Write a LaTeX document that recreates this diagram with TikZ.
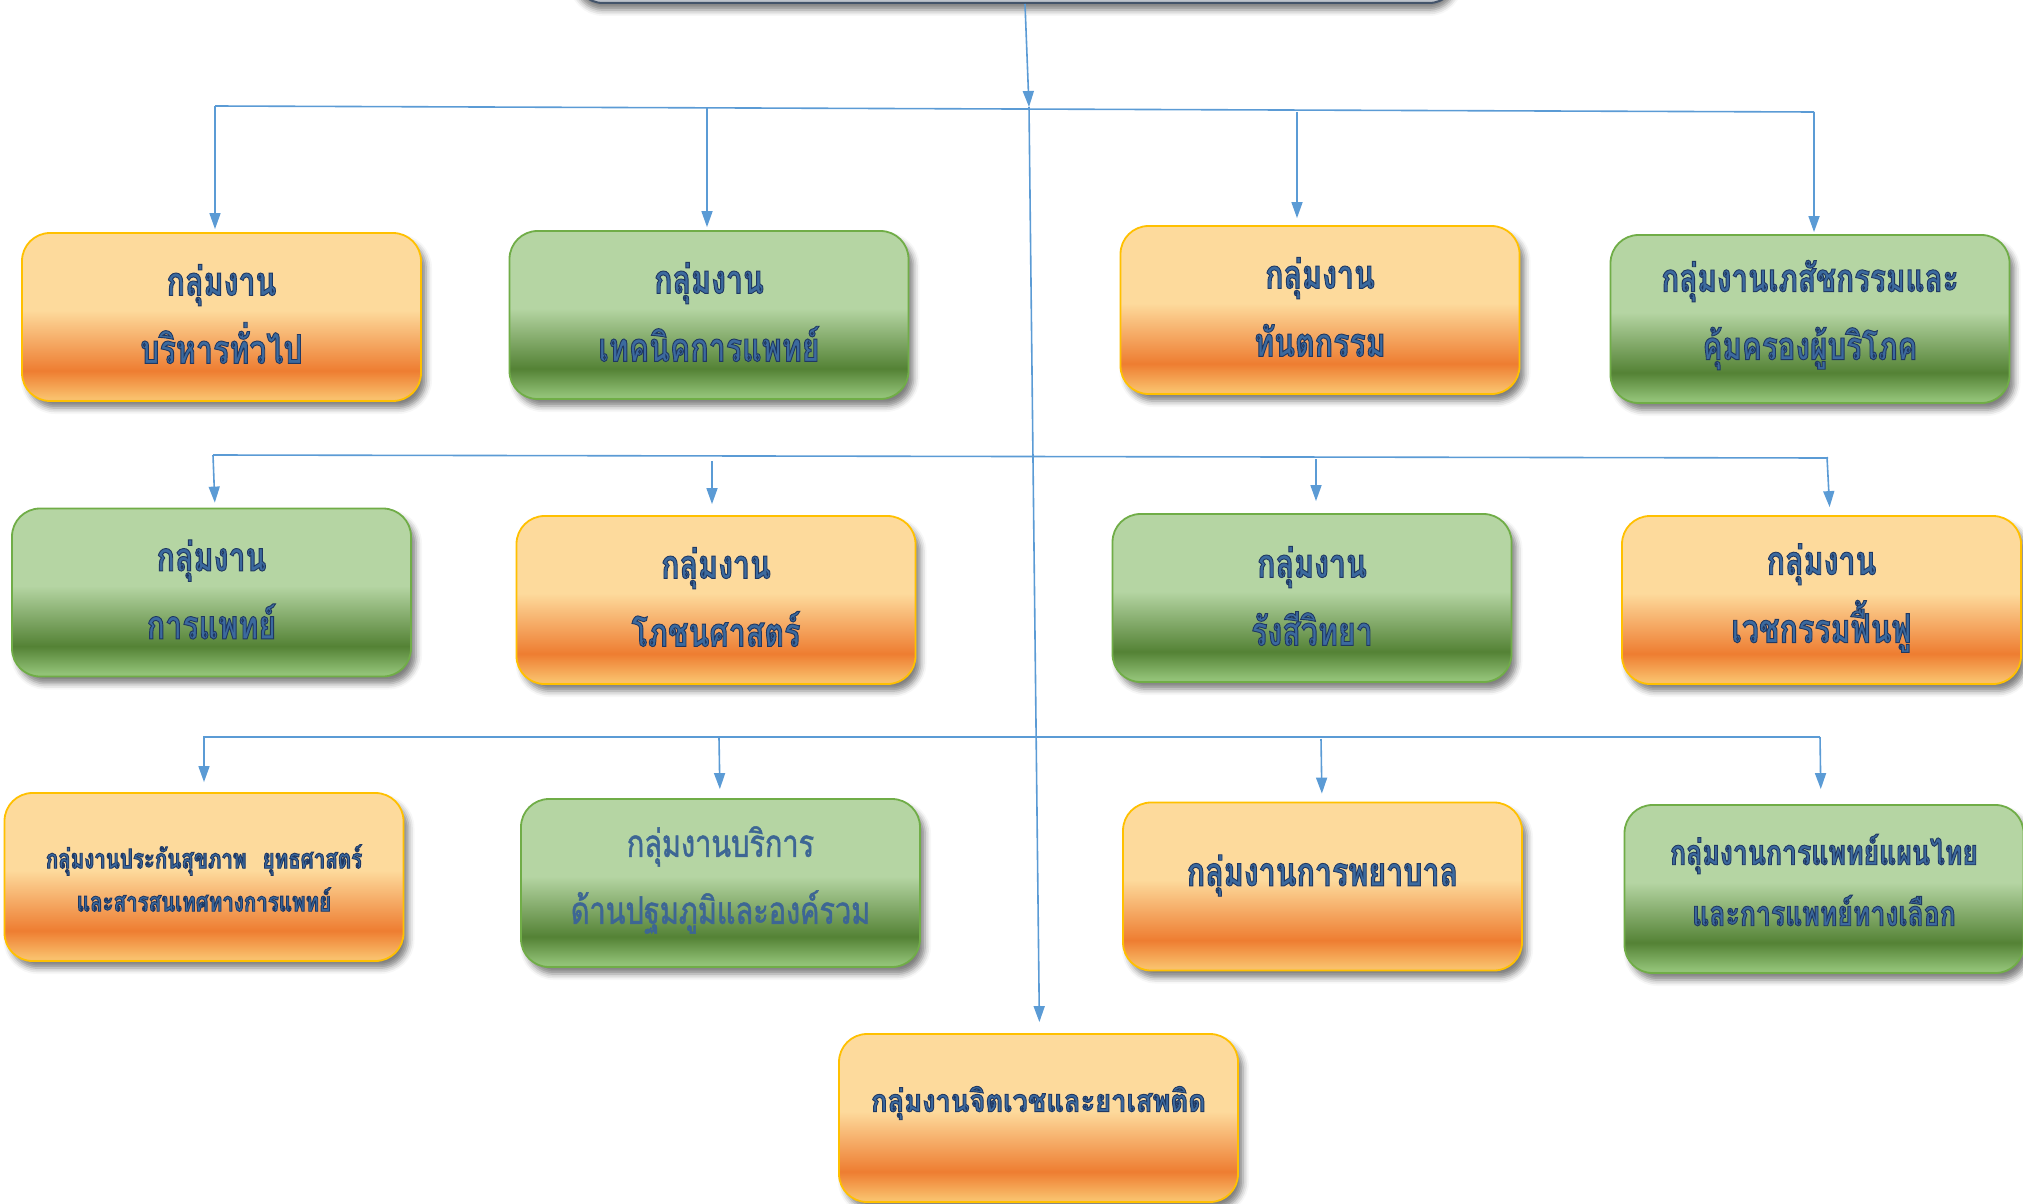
\documentclass[tikz,border=0pt]{standalone}
\usepackage{fontspec}
\newfontfamily\thai[Script=Thai,FakeStretch=0.76]{Loma}
\newfontfamily\thaiw[Script=Thai,FakeStretch=0.88]{Loma}
\usetikzlibrary{arrows.meta,shadows.blur,calc}
\definecolor{orL}{HTML}{FDDA9C}
\definecolor{orD}{HTML}{EE7D31}
\definecolor{orB}{HTML}{F9C06C}
\definecolor{orE}{HTML}{FFC000}
\definecolor{grL}{HTML}{B5D5A3}
\definecolor{grD}{HTML}{548235}
\definecolor{grB}{HTML}{92C277}
\definecolor{grE}{HTML}{70AD47}
\definecolor{lnC}{HTML}{5B9BD5}
\definecolor{txF}{HTML}{3C6A9E}
\definecolor{txR}{HTML}{3D6694}
\definecolor{topC}{HTML}{44546A}
\pgfdeclareverticalshading{orshade}{100bp}{color(0bp)=(orB); color(26bp)=(orB); color(34bp)=(orD); color(52bp)=(orL); color(100bp)=(orL)}
\pgfdeclareverticalshading{grshade}{100bp}{color(0bp)=(grB); color(26bp)=(grB); color(34bp)=(grD); color(52bp)=(grL); color(100bp)=(grL)}
\newcommand\olt[1]{\special{pdf:literal direct 2 Tr 0.9 w 0.12 0.22 0.39 RG}#1\special{pdf:literal direct 0 Tr}}
\newcommand\olr[1]{\special{pdf:literal direct 2 Tr 0.5 w 0.24 0.40 0.58 RG}#1\special{pdf:literal direct 0 Tr}}
\tikzset{
  box/.style={rounded corners=28pt, minimum width=399pt, minimum height=168pt, line width=1.8pt, inner sep=0pt,
    blur shadow={shadow xshift=5pt, shadow yshift=-7pt, shadow blur radius=6pt, shadow opacity=50}},
  obox/.style={box, draw=orE, shading=orshade},
  gbox/.style={box, draw=grE, shading=grshade},
  txt/.style={align=center, text=txF, inner sep=0pt, font=\thai\bfseries\fontsize{40}{68}\selectfont},
  ln/.style={draw=lnC, line width=1.6pt},
  arr/.style={ln, -{Triangle[length=16pt,width=11pt]}},
}
\begin{document}
\begin{tikzpicture}[x=1pt,y=-1pt]
\useasboundingbox (0,0) rectangle (2023,1204);
% top box (cut off)
\node[rounded corners=28pt, minimum width=882pt, minimum height=166pt, fill=topC!35, draw=topC, line width=2pt,
  blur shadow={shadow xshift=0pt, shadow yshift=-7pt, shadow blur radius=6pt, shadow opacity=50}] (top) at (1016,-80) {};
% row 1
\node[obox] (b1) at (221.5,317) {};
\node[gbox] (b2) at (709,315) {};
\node[obox] (b3) at (1320,310) {};
\node[gbox] (b4) at (1810,319) {};
% row 2
\node[gbox] (c1) at (211.5,592.5) {};
\node[obox] (c2) at (716,600) {};
\node[gbox] (c3) at (1312,598) {};
\node[obox] (c4) at (1821.5,600) {};
% row 3
\node[obox] (d1) at (204,877) {};
\node[gbox] (d2) at (720.5,883) {};
\node[obox] (d3) at (1322.5,886.5) {};
\node[gbox] (d4) at (1824,889) {};
% bottom
\node[obox] (e) at (1038.5,1118) {};
% texts
\node[txt] (b1t) at ($(b1.center)+(0,-3)$) {\olt{กลุ่มงาน}\\\olt{บริหารทั่วไป}};
\node[txt] (b2t) at ($(b2.center)+(0,-3)$) {\olt{กลุ่มงาน}\\\olt{เทคนิคการแพทย์}};
\node[txt] (b3t) at ($(b3.center)+(0,-3)$) {\olt{กลุ่มงาน}\\\olt{ทันตกรรม}};
\node[txt, font=\thai\bfseries\fontsize{39}{68}\selectfont] (b4t) at ($(b4.center)+(0,-4)$) {\olt{กลุ่มงานเภสัชกรรมและ}\\\olt{คุ้มครองผู้บริโภค}};
\node[txt] (c1t) at ($(c1.center)+(0,-3)$) {\olt{กลุ่มงาน}\\\olt{การแพทย์}};
\node[txt] (c2t) at ($(c2.center)+(0,-3)$) {\olt{กลุ่มงาน}\\\olt{โภชนศาสตร์}};
\node[txt] (c3t) at ($(c3.center)+(0,-2)$) {\olt{กลุ่มงาน}\\\olt{รังสีวิทยา}};
\node[txt] (c4t) at ($(c4.center)+(0,-2)$) {\olt{กลุ่มงาน}\\\olt{เวชกรรมฟื้นฟู}};
\node[txt, font=\thai\bfseries\fontsize{27}{43}\selectfont] (d1t) at ($(d1.center)+(0,1)$) {\olt{กลุ่มงานประกันสุขภาพ\hspace{0.6em}ยุทธศาสตร์}\\\olt{และสารสนเทศทางการแพทย์}};
\node[txt, text=txR, font=\thai\fontsize{38}{67}\selectfont] (d2t) at ($(d2.center)+(0,-3)$) {\olr{กลุ่มงานบริการ}\\\olr{ด้านปฐมภูมิและองค์รวม}};
\node[txt] (d3t) at ($(d3.center)+(0,-11)$) {\olt{กลุ่มงานการพยาบาล}};
\node[txt, font=\thai\bfseries\fontsize{35}{61}\selectfont] (d4t) at ($(d4.center)+(0,-9)$) {\olt{กลุ่มงานการแพทย์แผนไทย}\\\olt{และการแพทย์ทางเลือก}};
\node[txt, font=\thaiw\bfseries\fontsize{31}{60}\selectfont] (et) at ($(e.center)+(0,-15)$) {\olt{กลุ่มงานจิตเวชและยาเสพติด}};
% connectors
\coordinate (hub) at (1029,107);
\coordinate (r1L) at (215,106);
\coordinate (r1R) at (1814,112);
\coordinate (r1b) at (707,108);
\coordinate (r1c) at (1297,112);
\coordinate (r2L) at (213,455);
\coordinate (r2R) at (1828,458);
\coordinate (r2b) at (712,461);
\coordinate (r2c) at (1316,459);
\coordinate (r2d) at (1827,457);
\coordinate (r3L) at (203,737);
\coordinate (r3R) at (1820,737);
\coordinate (r3a) at (204,737);
\coordinate (r3b) at (719,738);
\coordinate (r3c) at (1321,739);
\draw[arr] ([xshift=9pt]top.south) -- (hub);
\draw[arr, shorten >=11pt] (hub) -- ($(e.north)+(1,0)$);
\draw[ln] (r1L) -- (r1R);
\draw[ln] (r2L) -- (r2R);
\draw[ln] (r3L) -- (r3R);
\draw[arr, shorten >=3pt] (r1L) -- ($(b1.north)+(-6.5,0)$);
\draw[arr, shorten >=3pt] (r1b) -- ($(b2.north)+(-2,0)$);
\draw[arr, shorten >=7pt] (r1c) -- ($(b3.north)+(-23,0)$);
\draw[arr, shorten >=2pt] (r1R) -- ($(b4.north)+(4,0)$);
\draw[arr, shorten >=5pt] (r2L) -- ($(c1.north)+(3.5,0)$);
\draw[arr, shorten >=11pt] (r2b) -- ($(c2.north)+(-4,0)$);
\draw[arr, shorten >=12pt] (r2c) -- ($(c3.north)+(4,0)$);
\draw[arr, shorten >=8pt] (r2d) -- ($(c4.north)+(8.5,0)$);
\draw[arr, shorten >=10pt] (r3a) -- (d1.north);
\draw[arr, shorten >=9pt] (r3b) -- ($(d2.north)+(-0.5,0)$);
\draw[arr, shorten >=8pt] (r3c) -- ($(d3.north)+(-0.5,0)$);
\draw[arr, shorten >=15pt] (r3R) -- ($(d4.north)+(-3,0)$);
\end{tikzpicture}
\end{document}
